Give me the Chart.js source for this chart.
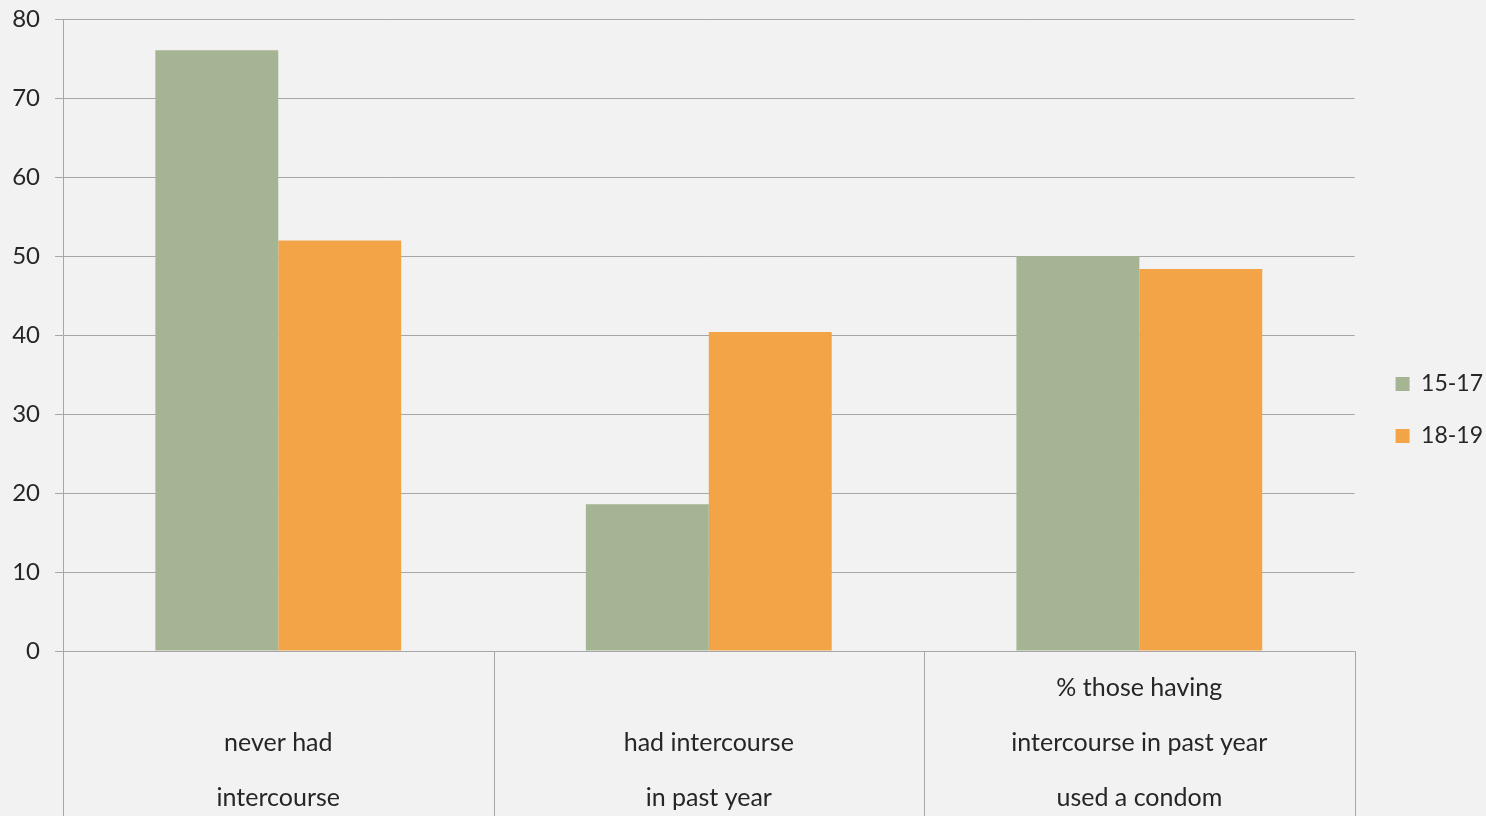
<!DOCTYPE html>
<html>
<head>
<meta charset="utf-8">
<script src="https://cdn.jsdelivr.net/npm/chart.js@4"></script>
<style>
  html, body { margin: 0; padding: 0; background: #f2f2f2; overflow: hidden; }
  #wrap { width: 1486px; height: 826px; }
</style>
</head>
<body>
<div id="wrap"><canvas id="chart"></canvas></div>
<script>
// categories (leading blank line keeps the short labels bottom aligned)
const categories = [
    ['', 'never had', 'intercourse'],
    ['', 'had intercourse', 'in past year'],
    ['% those having', 'intercourse in past year', 'used a condom']
];
const seriesNames = ['15-17', '18-19'];
const values1517 = [76.1, 18.6, 50.0];
const values1819 = [52.0, 40.4, 48.4];
const yTicks = [0, 10, 20, 30, 40, 50, 60, 70, 80];

const gridColor = '#a6a6a6';
const textColor = '#262626';
const fontFamily = 'Lato, "Liberation Sans", sans-serif';

// boxes under each category, drawn from the category scale
const categoryLines = {
    id: 'categoryLines',
    afterDraw(chart) {
        const x = chart.scales.x;
        const ctx = chart.ctx;
        const half = (x.getPixelForValue(1) - x.getPixelForValue(0)) / 2;
        ctx.save();
        ctx.strokeStyle = gridColor;
        ctx.lineWidth = 1;
        for (let i = 0; i <= categories.length; i++) {
            const px = Math.round(x.getPixelForValue(i) - half) + 0.5;
            ctx.beginPath();
            ctx.moveTo(px, chart.chartArea.bottom);
            ctx.lineTo(px, chart.height);
            ctx.stroke();
        }
        ctx.restore();
    }
};

// shift the legend a little
const legendNudge = {
    id: 'legendNudge',
    afterLayout(chart) {
        const lg = chart.legend;
        lg.top -= 3;
        lg.bottom -= 3;
        lg.left += 12;
        lg.right += 12;
    }
};

new Chart(document.getElementById('chart'), {
    type: 'bar',
    data: {
        labels: categories,
        datasets: [{
            label: seriesNames[0],
            data: values1517,
            backgroundColor: '#a5b492'
        }, {
            label: seriesNames[1],
            data: values1819,
            backgroundColor: '#f3a447'
        }]
    },
    options: {
        responsive: true,
        maintainAspectRatio: false,
        animation: false,
        categoryPercentage: 0.571,
        barPercentage: 1,
        layout: { padding: { top: 0, right: 5, left: 0, bottom: 0 } },
        plugins: {
            legend: {
                position: 'right',
                labels: {
                    boxWidth: 14,
                    boxHeight: 14,
                    padding: 29,
                    color: textColor,
                    font: { family: fontFamily, size: 23 }
                }
            },
            tooltip: { enabled: false }
        },
        scales: {
            x: {
                grid: { display: false },
                border: { display: false },
                ticks: {
                    color: textColor,
                    padding: 1,
                    maxRotation: 0,
                    autoSkip: false,
                    font: { family: fontFamily, size: 25, lineHeight: 2.2 }
                }
            },
            y: {
                min: 0,
                max: 80,
                afterFit(scale) {
                    scale.width = 63;
                    scale.paddingTop = 19.5;
                },
                afterBuildTicks(scale) { scale.ticks = yTicks.map(v => ({ value: v })); },
                grid: { color: gridColor, tickLength: 8 },
                border: { color: gridColor },
                ticks: {
                    color: textColor,
                    padding: 15,
                    font: { family: fontFamily, size: 24 }
                }
            }
        }
    },
    plugins: [categoryLines, legendNudge]
});
</script>
</body>
</html>
